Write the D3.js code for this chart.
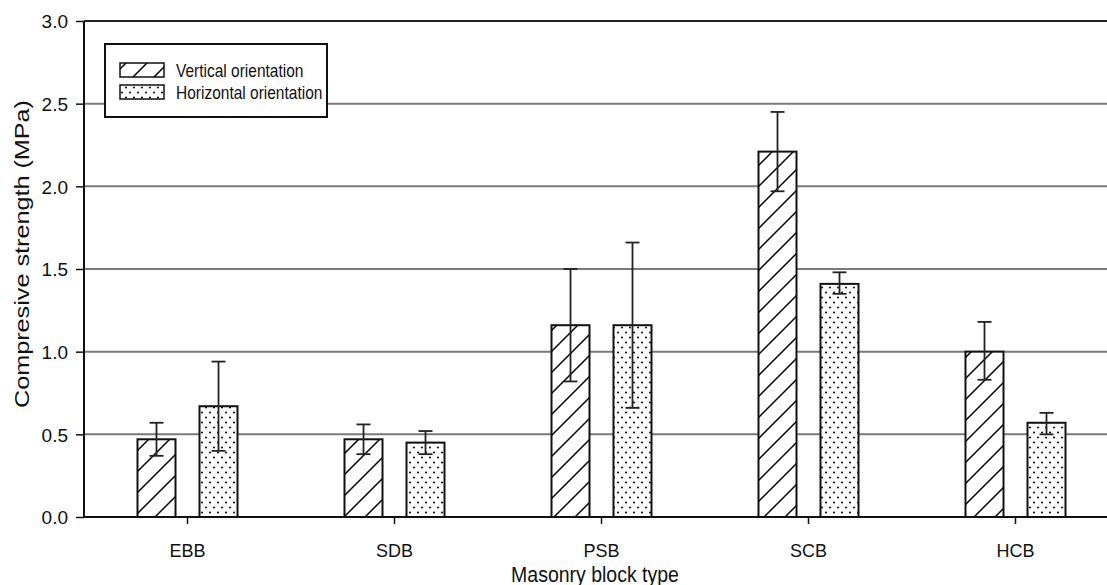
<!DOCTYPE html>
<html>
<head>
<meta charset="utf-8">
<script src="https://cdn.jsdelivr.net/npm/d3@7"></script>
<style>
  body { margin: 0; background: #fff; }
  svg text { font-family: "Liberation Sans", Arial, sans-serif; fill: #111; }
</style>
</head>
<body>
<svg id="chart" width="1107" height="585"></svg>
<script>
// block types and measured strengths (MPa)
var blocks = ["EBB", "SDB", "PSB", "SCB", "HCB"];
var vertMean = [0.47, 0.47, 1.16, 2.21, 1.00];
var vertLow  = [0.37, 0.38, 0.82, 1.97, 0.83];
var vertHigh = [0.57, 0.56, 1.50, 2.45, 1.18];
var horMean  = [0.67, 0.45, 1.16, 1.41, 0.57];
var horLow   = [0.40, 0.38, 0.66, 1.35, 0.50];
var horHigh  = [0.94, 0.52, 1.66, 1.48, 0.63];
var yTicks = [0, 0.5, 1.0, 1.5, 2.0, 2.5, 3.0];
var seriesNames = ["Vertical orientation", "Horizontal orientation"];

(function(){
    var svg = d3.select("#chart");
    var left = 84, top = 21, bottom = 517;
    var stretch = 1.2;   // the figure's titles are taller than they are wide

    var x = d3.scaleBand().domain(blocks).range([left, left + 207 * 5]);
    var y = d3.scaleLinear().domain([0, 3]).range([bottom, top]);

    var defs = svg.append("defs");
    // diagonal hatch
    var hatch = defs.append("pattern").attr("id", "hatch")
        .attr("patternUnits", "userSpaceOnUse")
        .attr("width", 21).attr("height", 21);
    hatch.append("path")
        .attr("d", "M0,21 L21,0 M-6,6 L6,-6 M15,27 L27,15")
        .attr("stroke", "#000").attr("stroke-width", 1.5);
    // dots
    var dots = defs.append("pattern").attr("id", "dots")
        .attr("patternUnits", "userSpaceOnUse")
        .attr("width", 8).attr("height", 10);
    dots.append("circle").attr("cx", 2).attr("cy", 2.5).attr("r", 1).attr("fill", "#000");
    dots.append("circle").attr("cx", 6).attr("cy", 7.5).attr("r", 1).attr("fill", "#000");

    // gridlines
    svg.selectAll("line.grid")
        .data(yTicks.filter(function(d) { return d > 0 && d < 3; }))
        .enter().append("line")
        .attr("class", "grid")
        .attr("x1", left).attr("x2", 1107)
        .attr("y1", function(d) { return y(d); })
        .attr("y2", function(d) { return y(d); })
        .attr("stroke", "#7a7a7a").attr("stroke-width", 2);

    // top line
    svg.append("line")
        .attr("x1", left).attr("x2", 1107)
        .attr("y1", y(3)).attr("y2", y(3))
        .attr("stroke", "#222").attr("stroke-width", 2);

    var barW = 38, off = 31;
    var groups = [
        {mean: vertMean, low: vertLow, high: vertHigh, fill: "url(#hatch)", dx: -off},
        {mean: horMean, low: horLow, high: horHigh, fill: "url(#dots)", dx: off}
    ];

    groups.forEach(function(g) {
        var cx = function(d, i) { return x(blocks[i]) + x.bandwidth() / 2 + g.dx; };
        var bars = svg.append("g");
        bars.selectAll("rect.bg")
            .data(g.mean)
            .enter().append("rect")
            .attr("x", function(d, i) { return cx(d, i) - barW / 2; })
            .attr("y", function(d) { return y(d); })
            .attr("width", barW)
            .attr("height", function(d) { return bottom - y(d); })
            .attr("fill", "#fff");
        bars.selectAll("rect.fg")
            .data(g.mean)
            .enter().append("rect")
            .attr("x", function(d, i) { return cx(d, i) - barW / 2; })
            .attr("y", function(d) { return y(d); })
            .attr("width", barW)
            .attr("height", function(d) { return bottom - y(d); })
            .attr("fill", g.fill)
            .attr("stroke", "#111").attr("stroke-width", 2);

        // error bars
        var eb = svg.append("g").attr("stroke", "#222").attr("stroke-width", 1.8);
        eb.selectAll("line.v").data(g.mean).enter().append("line")
            .attr("x1", cx).attr("x2", cx)
            .attr("y1", function(d, i) { return y(g.low[i]); })
            .attr("y2", function(d, i) { return y(g.high[i]); });
        eb.selectAll("line.lo").data(g.mean).enter().append("line")
            .attr("x1", function(d, i) { return cx(d, i) - 7; })
            .attr("x2", function(d, i) { return cx(d, i) + 7; })
            .attr("y1", function(d, i) { return y(g.low[i]); })
            .attr("y2", function(d, i) { return y(g.low[i]); });
        eb.selectAll("line.hi").data(g.mean).enter().append("line")
            .attr("x1", function(d, i) { return cx(d, i) - 7; })
            .attr("x2", function(d, i) { return cx(d, i) + 7; })
            .attr("y1", function(d, i) { return y(g.high[i]); })
            .attr("y2", function(d, i) { return y(g.high[i]); });
    });

    // axes
    var yAxis = svg.append("g")
        .attr("transform", "translate(" + left + ",0)")
        .call(d3.axisLeft(y).tickValues(yTicks).tickFormat(d3.format(".1f")).tickSize(8));
    yAxis.attr("font-family", null).attr("font-size", null);
    yAxis.select(".domain").attr("stroke", "#111").attr("stroke-width", 2).attr("d", "M0," + top + "V" + bottom);
    yAxis.selectAll(".tick line").attr("stroke", "#111").attr("stroke-width", 1.5);
    yAxis.selectAll("text")
        .style("font-size", "19px")
        .attr("x", -16)
        .attr("dy", "0.36em");

    var xAxis = svg.append("g")
        .attr("transform", "translate(0," + bottom + ")")
        .call(d3.axisBottom(x).tickSize(7));
    xAxis.attr("font-family", null).attr("font-size", null);
    xAxis.select(".domain").attr("stroke", "#111").attr("stroke-width", 2).attr("d", "M" + left + ",0H1107");
    xAxis.selectAll(".tick line").attr("stroke", "#111").attr("stroke-width", 1.5);
    xAxis.selectAll("text")
        .style("font-size", "18px")
        .attr("y", 27);

    // titles
    svg.append("text")
        .attr("transform", "translate(28.5," + 254 + ") rotate(-90) scale(" + stretch + ",1)")
        .attr("text-anchor", "middle")
        .style("font-size", "21px")
        .text("Compresive strength (MPa)");
    svg.append("text")
        .attr("transform", "translate(595,582) scale(1,1.1)")
        .attr("text-anchor", "middle")
        .style("font-size", "19.5px")
        .text("Masonry block type");

    // legend
    var lg = svg.append("g");
    lg.append("rect")
        .attr("x", 105).attr("y", 44).attr("width", 222).attr("height", 73)
        .attr("fill", "#fff").attr("stroke", "#111").attr("stroke-width", 2);
    var fills = ["url(#hatch)", "url(#dots)"];
    lg.selectAll("rect.sw").data(seriesNames).enter().append("rect")
        .attr("class", "sw")
        .attr("x", 120).attr("y", function(d, i) { return 63 + i * 22; })
        .attr("width", 44).attr("height", 14)
        .attr("fill", function(d, i) { return fills[i]; })
        .attr("stroke", "#111").attr("stroke-width", 1.5);
    lg.selectAll("text").data(seriesNames).enter().append("text")
        .attr("transform", function(d, i) { return "translate(176," + (77 + i * 22) + ") scale(1," + stretch + ")"; })
        .style("font-size", "15.5px")
        .text(function(d) { return d; });
})();
</script>
</body>
</html>
